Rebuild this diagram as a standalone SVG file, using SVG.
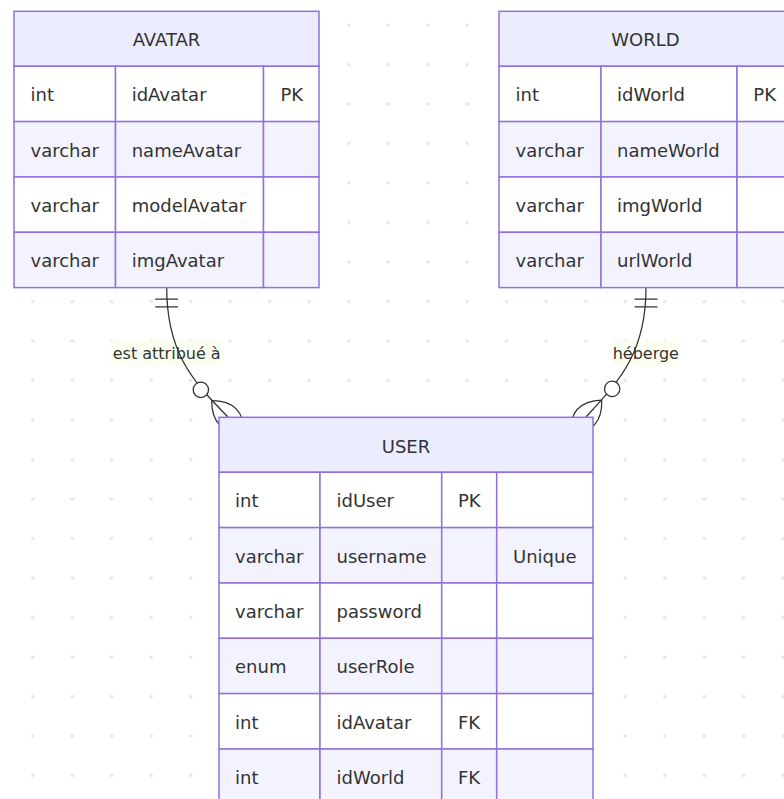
<svg xmlns="http://www.w3.org/2000/svg" width="784" height="799" viewBox="0 0 784 799">
<defs>
<style>
.cell{stroke:#9370DB;stroke-width:1.5}
.hdr{fill:#ECECFF}
.odd{fill:#FFFFFF}
.even{fill:#F3F3FF}
.t{font-family:"DejaVu Sans","Liberation Sans",sans-serif;font-size:18px;fill:#333}
.title{text-anchor:middle}
.lbl{font-family:"DejaVu Sans","Liberation Sans",sans-serif;font-size:16px;fill:#333;text-anchor:middle}
.lblbox{fill:#F9FFEC;opacity:0.7}
.rel{fill:none;stroke:#333;stroke-width:1.28}
</style>
<pattern id="dots" x="12.95" y="5.25" width="39.5" height="39.5" patternUnits="userSpaceOnUse">
<circle cx="19.75" cy="19.75" r="1.7" fill="#e3e3e6"/>
</pattern>
<marker id="oneStart" viewBox="0 0 18 18" refX="0" refY="9" markerWidth="23.04" markerHeight="23.04" markerUnits="userSpaceOnUse" orient="auto">
<path d="M9,0 L9,18 M15,0 L15,18" stroke="#333" fill="none"/>
</marker>
<marker id="zeroManyEnd" viewBox="0 0 57 36" refX="39" refY="18" markerWidth="72.96" markerHeight="46.08" markerUnits="userSpaceOnUse" orient="auto">
<circle cx="9" cy="18" r="6" fill="#fff" stroke="#333"/>
<path d="M21,18 Q39,0 57,18 Q39,36 21,18" fill="none" stroke="#333"/>
</marker>
</defs>
<rect x="0" y="0" width="784" height="799" fill="#fff"/>
<rect x="0" y="0" width="784" height="799" fill="url(#dots)"/>

<g id="connectors">
<rect class="lblbox" x="111" y="339.5" width="111.5" height="26.2"/>
<rect class="lblbox" x="613.3" y="339.5" width="65" height="26.2"/>
<path class="rel" d="M166.7,287.6 C166.7,350 190,379 228,417" marker-start="url(#oneStart)" marker-end="url(#zeroManyEnd)"/>
<path class="rel" d="M646,287.6 C646,350 622.7,377.6 586,417" marker-start="url(#oneStart)" marker-end="url(#zeroManyEnd)"/>
<text class="lbl" x="166.7" y="359">est attribué à</text>
<text class="lbl" x="645.8" y="359">héberge</text>
</g>

<g id="AVATAR">
<rect class="cell hdr" x="14" y="11.3" width="305" height="55"/>
<text class="t title" x="166.5" y="45.7">AVATAR</text>
<rect class="cell odd" x="14" y="66.3" width="101.5" height="55.3"/>
<rect class="cell odd" x="115.5" y="66.3" width="148" height="55.3"/>
<rect class="cell odd" x="263.5" y="66.3" width="55.5" height="55.3"/>
<rect class="cell even" x="14" y="121.6" width="101.5" height="55.4"/>
<rect class="cell even" x="115.5" y="121.6" width="148" height="55.4"/>
<rect class="cell even" x="263.5" y="121.6" width="55.5" height="55.4"/>
<rect class="cell odd" x="14" y="177" width="101.5" height="55.3"/>
<rect class="cell odd" x="115.5" y="177" width="148" height="55.3"/>
<rect class="cell odd" x="263.5" y="177" width="55.5" height="55.3"/>
<rect class="cell even" x="14" y="232.3" width="101.5" height="55.3"/>
<rect class="cell even" x="115.5" y="232.3" width="148" height="55.3"/>
<rect class="cell even" x="263.5" y="232.3" width="55.5" height="55.3"/>
<text class="t" x="30.5" y="101.3">int</text>
<text class="t" x="131.7" y="101.3">idAvatar</text>
<text class="t" x="280.5" y="101.3">PK</text>
<text class="t" x="30.5" y="156.6">varchar</text>
<text class="t" x="131.7" y="156.6">nameAvatar</text>
<text class="t" x="30.5" y="212">varchar</text>
<text class="t" x="131.7" y="212">modelAvatar</text>
<text class="t" x="30.5" y="267.3">varchar</text>
<text class="t" x="131.7" y="267.3">imgAvatar</text>
</g>

<g id="WORLD">
<rect class="cell hdr" x="499" y="11.3" width="293" height="55"/>
<text class="t title" x="645.5" y="45.7">WORLD</text>
<rect class="cell odd" x="499" y="66.3" width="102" height="55.3"/>
<rect class="cell odd" x="601" y="66.3" width="136" height="55.3"/>
<rect class="cell odd" x="737" y="66.3" width="55" height="55.3"/>
<rect class="cell even" x="499" y="121.6" width="102" height="55.4"/>
<rect class="cell even" x="601" y="121.6" width="136" height="55.4"/>
<rect class="cell even" x="737" y="121.6" width="55" height="55.4"/>
<rect class="cell odd" x="499" y="177" width="102" height="55.3"/>
<rect class="cell odd" x="601" y="177" width="136" height="55.3"/>
<rect class="cell odd" x="737" y="177" width="55" height="55.3"/>
<rect class="cell even" x="499" y="232.3" width="102" height="55.3"/>
<rect class="cell even" x="601" y="232.3" width="136" height="55.3"/>
<rect class="cell even" x="737" y="232.3" width="55" height="55.3"/>
<text class="t" x="515.5" y="101.3">int</text>
<text class="t" x="617" y="101.3">idWorld</text>
<text class="t" x="753.3" y="101.3">PK</text>
<text class="t" x="515.5" y="156.6">varchar</text>
<text class="t" x="617" y="156.6">nameWorld</text>
<text class="t" x="515.5" y="212">varchar</text>
<text class="t" x="617" y="212">imgWorld</text>
<text class="t" x="515.5" y="267.3">varchar</text>
<text class="t" x="617" y="267.3">urlWorld</text>
</g>

<g id="USER">
<rect class="cell hdr" x="219" y="417.3" width="374" height="55"/>
<text class="t title" x="406" y="452.5">USER</text>
<rect class="cell odd" x="219" y="472.3" width="101" height="55.3"/>
<rect class="cell odd" x="320" y="472.3" width="121.7" height="55.3"/>
<rect class="cell odd" x="441.7" y="472.3" width="55" height="55.3"/>
<rect class="cell odd" x="496.7" y="472.3" width="96.3" height="55.3"/>
<rect class="cell even" x="219" y="527.6" width="101" height="55.4"/>
<rect class="cell even" x="320" y="527.6" width="121.7" height="55.4"/>
<rect class="cell even" x="441.7" y="527.6" width="55" height="55.4"/>
<rect class="cell even" x="496.7" y="527.6" width="96.3" height="55.4"/>
<rect class="cell odd" x="219" y="583" width="101" height="55.3"/>
<rect class="cell odd" x="320" y="583" width="121.7" height="55.3"/>
<rect class="cell odd" x="441.7" y="583" width="55" height="55.3"/>
<rect class="cell odd" x="496.7" y="583" width="96.3" height="55.3"/>
<rect class="cell even" x="219" y="638.3" width="101" height="55.3"/>
<rect class="cell even" x="320" y="638.3" width="121.7" height="55.3"/>
<rect class="cell even" x="441.7" y="638.3" width="55" height="55.3"/>
<rect class="cell even" x="496.7" y="638.3" width="96.3" height="55.3"/>
<rect class="cell odd" x="219" y="693.6" width="101" height="55.4"/>
<rect class="cell odd" x="320" y="693.6" width="121.7" height="55.4"/>
<rect class="cell odd" x="441.7" y="693.6" width="55" height="55.4"/>
<rect class="cell odd" x="496.7" y="693.6" width="96.3" height="55.4"/>
<rect class="cell even" x="219" y="749" width="101" height="55.3"/>
<rect class="cell even" x="320" y="749" width="121.7" height="55.3"/>
<rect class="cell even" x="441.7" y="749" width="55" height="55.3"/>
<rect class="cell even" x="496.7" y="749" width="96.3" height="55.3"/>
<text class="t" x="235" y="507.3">int</text>
<text class="t" x="336.5" y="507.3">idUser</text>
<text class="t" x="458" y="507.3">PK</text>
<text class="t" x="235" y="562.6">varchar</text>
<text class="t" x="336.5" y="562.6">username</text>
<text class="t" x="513" y="562.6">Unique</text>
<text class="t" x="235" y="618">varchar</text>
<text class="t" x="336.5" y="618">password</text>
<text class="t" x="235" y="673.3">enum</text>
<text class="t" x="336.5" y="673.3">userRole</text>
<text class="t" x="235" y="728.6">int</text>
<text class="t" x="336.5" y="728.6">idAvatar</text>
<text class="t" x="458" y="728.6">FK</text>
<text class="t" x="235" y="784">int</text>
<text class="t" x="336.5" y="784">idWorld</text>
<text class="t" x="458" y="784">FK</text>
</g>
</svg>
